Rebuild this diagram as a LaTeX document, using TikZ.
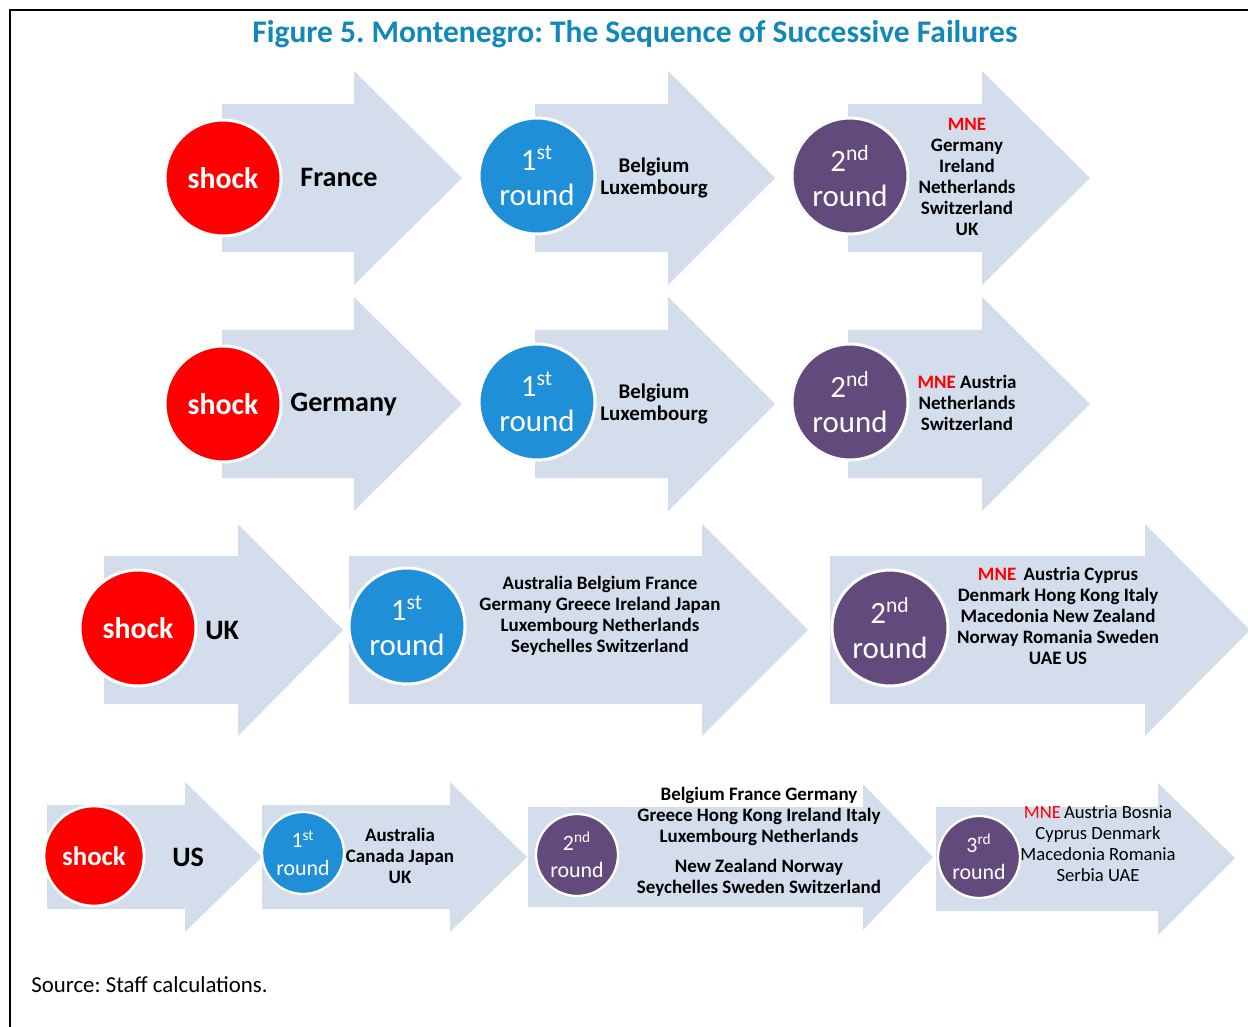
\documentclass[tikz,border=0pt]{standalone}
\usepackage{fontspec}
\setmainfont{Carlito}
\frenchspacing
\definecolor{arrowblue}{RGB}{211,221,235}
\definecolor{shockred}{RGB}{255,0,0}
\definecolor{roundblue}{RGB}{31,143,216}
\definecolor{roundpurple}{RGB}{99,74,124}
\definecolor{titleblue}{RGB}{18,135,185}
\definecolor{mnered}{RGB}{255,0,0}
\begin{document}
\begin{tikzpicture}[x=0.02cm,y=-0.02cm,
  arr/.style={fill=arrowblue,draw=none},
  bigdot/.style={circle,draw=white,line width=1.7pt,minimum size=2.32cm,inner sep=0pt,text=white,align=center},
  smalldot/.style={circle,draw=white,line width=1.3pt,minimum size=1.64cm,inner sep=0pt,text=white,align=center},
  shocktxt/.style={font=\fontsize{17}{20}\selectfont\bfseries},
  smallshock/.style={font=\fontsize{15.3}{18}\selectfont\bfseries},
  roundtxt/.style={font=\fontsize{17.6}{20}\selectfont},
  smallround/.style={font=\fontsize{12.5}{15.5}\selectfont},
  country/.style={font=\fontsize{16}{19}\selectfont\bfseries,anchor=west,inner sep=0pt},
  list/.style={font=\fontsize{10.8}{11.9}\selectfont\bfseries,align=center,inner sep=0pt},
  biglist/.style={font=\fontsize{11.9}{13}\selectfont\bfseries,align=center,inner sep=0pt}]
\useasboundingbox (0,0) rectangle (1248,1027);
% frame and title
\draw[line width=1.7pt] (10,1027) -- (10,10) -- (1248,10);
\node[font=\fontsize{17.9}{21}\selectfont\bfseries,text=titleblue] (title) at (635,34) {Figure 5. Montenegro: The Sequence of Successive Failures};
%France
\fill[arr] (222,104) -- (354,104) -- (354,71) -- (462,178) -- (354,285) -- (354,252) -- (222,252) -- cycle;
\fill[arr] (535,104) -- (668,104) -- (668,71) -- (775,178) -- (668,285) -- (668,252) -- (535,252) -- cycle;
\fill[arr] (848,104) -- (982,104) -- (982,71) -- (1090,178) -- (982,285) -- (982,252) -- (848,252) -- cycle;
\node[country] (france) at (300,177) {France};
\node[biglist] (fr1) at (654,178) {Belgium\\Luxembourg};
\node[list] (fr2) at (967,177) {\textcolor{mnered}{MNE}\\Germany\\Ireland\\Netherlands\\Switzerland\\UK};
\node[bigdot,fill=shockred,shocktxt] (shockfr) at (223,178) {shock};
\node[bigdot,fill=roundblue,roundtxt] (firstfr) at (537,176) {1\textsuperscript{st}\\round};
\node[bigdot,fill=roundpurple,roundtxt] (secondfr) at (850,176) {2\textsuperscript{nd}\\round};
%Germany
\fill[arr] (222,330) -- (354,330) -- (354,297) -- (462,404) -- (354,511) -- (354,478) -- (222,478) -- cycle;
\fill[arr] (535,330) -- (668,330) -- (668,297) -- (775,404) -- (668,511) -- (668,478) -- (535,478) -- cycle;
\fill[arr] (848,330) -- (982,330) -- (982,297) -- (1090,404) -- (982,511) -- (982,478) -- (848,478) -- cycle;
\node[country] (germany) at (290,404) {Germany};
\node[biglist] (de1) at (654,404) {Belgium\\Luxembourg};
\node[list] (de2) at (967,403) {\textcolor{mnered}{MNE} Austria\\Netherlands\\Switzerland};
\node[bigdot,fill=shockred,shocktxt] (shockde) at (223,404) {shock};
\node[bigdot,fill=roundblue,roundtxt] (firstde) at (537,402) {1\textsuperscript{st}\\round};
\node[bigdot,fill=roundpurple,roundtxt] (secondde) at (850,402) {2\textsuperscript{nd}\\round};
%UK
\fill[arr] (104,556) -- (238,556) -- (238,524) -- (343,630) -- (238,736) -- (238,704) -- (104,704) -- cycle;
\fill[arr] (349,556) -- (702,556) -- (702,524) -- (808,630) -- (702,736) -- (702,704) -- (349,704) -- cycle;
\fill[arr] (830,556) -- (1145,556) -- (1145,524) -- (1250,630) -- (1145,736) -- (1145,704) -- (830,704) -- cycle;
\node[country] (uk) at (205,630) {UK};
\node[list] (uk1) at (600,616) {Australia Belgium France\\Germany Greece Ireland Japan\\Luxembourg Netherlands\\Seychelles Switzerland};
\node[list] (uk2) at (1058,616) {\textcolor{mnered}{MNE}\, Austria Cyprus\\Denmark Hong Kong Italy\\Macedonia New Zealand\\Norway Romania Sweden\\UAE US};
\node[bigdot,fill=shockred,shocktxt] (shockuk) at (138,628) {shock};
\node[bigdot,fill=roundblue,roundtxt] (firstuk) at (407,626) {1\textsuperscript{st}\\round};
\node[bigdot,fill=roundpurple,roundtxt] (seconduk) at (890,628) {2\textsuperscript{nd}\\round};
%US
\fill[arr] (47,805) -- (185,805) -- (185,782) -- (262,857) -- (185,932) -- (185,909) -- (47,909) -- cycle;
\fill[arr] (262,805) -- (450,805) -- (450,782) -- (527,857) -- (450,932) -- (450,909) -- (262,909) -- cycle;
\fill[arr] (528,807) -- (863,807) -- (863,784) -- (933,857) -- (863,930) -- (863,907) -- (528,907) -- cycle;
\fill[arr] (936,807) -- (1158,807) -- (1158,783) -- (1235,858) -- (1158,935) -- (1158,911) -- (936,911) -- cycle;
\node[country] (us) at (172,857) {US};
\node[list] (us1) at (400,856) {Australia\\Canada Japan\\UK};
\node[list] (us2) at (759,842) {Belgium France Germany\\Greece Hong Kong Ireland Italy\\Luxembourg Netherlands\\[5pt]New Zealand Norway\\Seychelles Sweden Switzerland};
\node[list,font=\fontsize{10.6}{11.9}\selectfont] (us3) at (1098,844) {\textcolor{mnered}{MNE}\,Austria Bosnia\\Cyprus Denmark\\Macedonia Romania\\Serbia UAE};
\node[circle,draw=white,line width=1.5pt,minimum size=2cm,inner sep=0pt,text=white,fill=shockred,smallshock] (shockus) at (94,856) {shock};
\node[smalldot,fill=roundblue,smallround] (firstus) at (303,853) {1\textsuperscript{st}\\round};
\node[smalldot,fill=roundpurple,smallround] (secondus) at (577,855) {2\textsuperscript{nd}\\round};
\node[smalldot,fill=roundpurple,smallround] (thirdus) at (979,857) {3\textsuperscript{rd}\\round};
% source
\node[anchor=west,inner sep=0pt,font=\fontsize{13}{15}\selectfont] (source) at (31,985) {Source: Staff calculations.};
\end{tikzpicture}
\end{document}
